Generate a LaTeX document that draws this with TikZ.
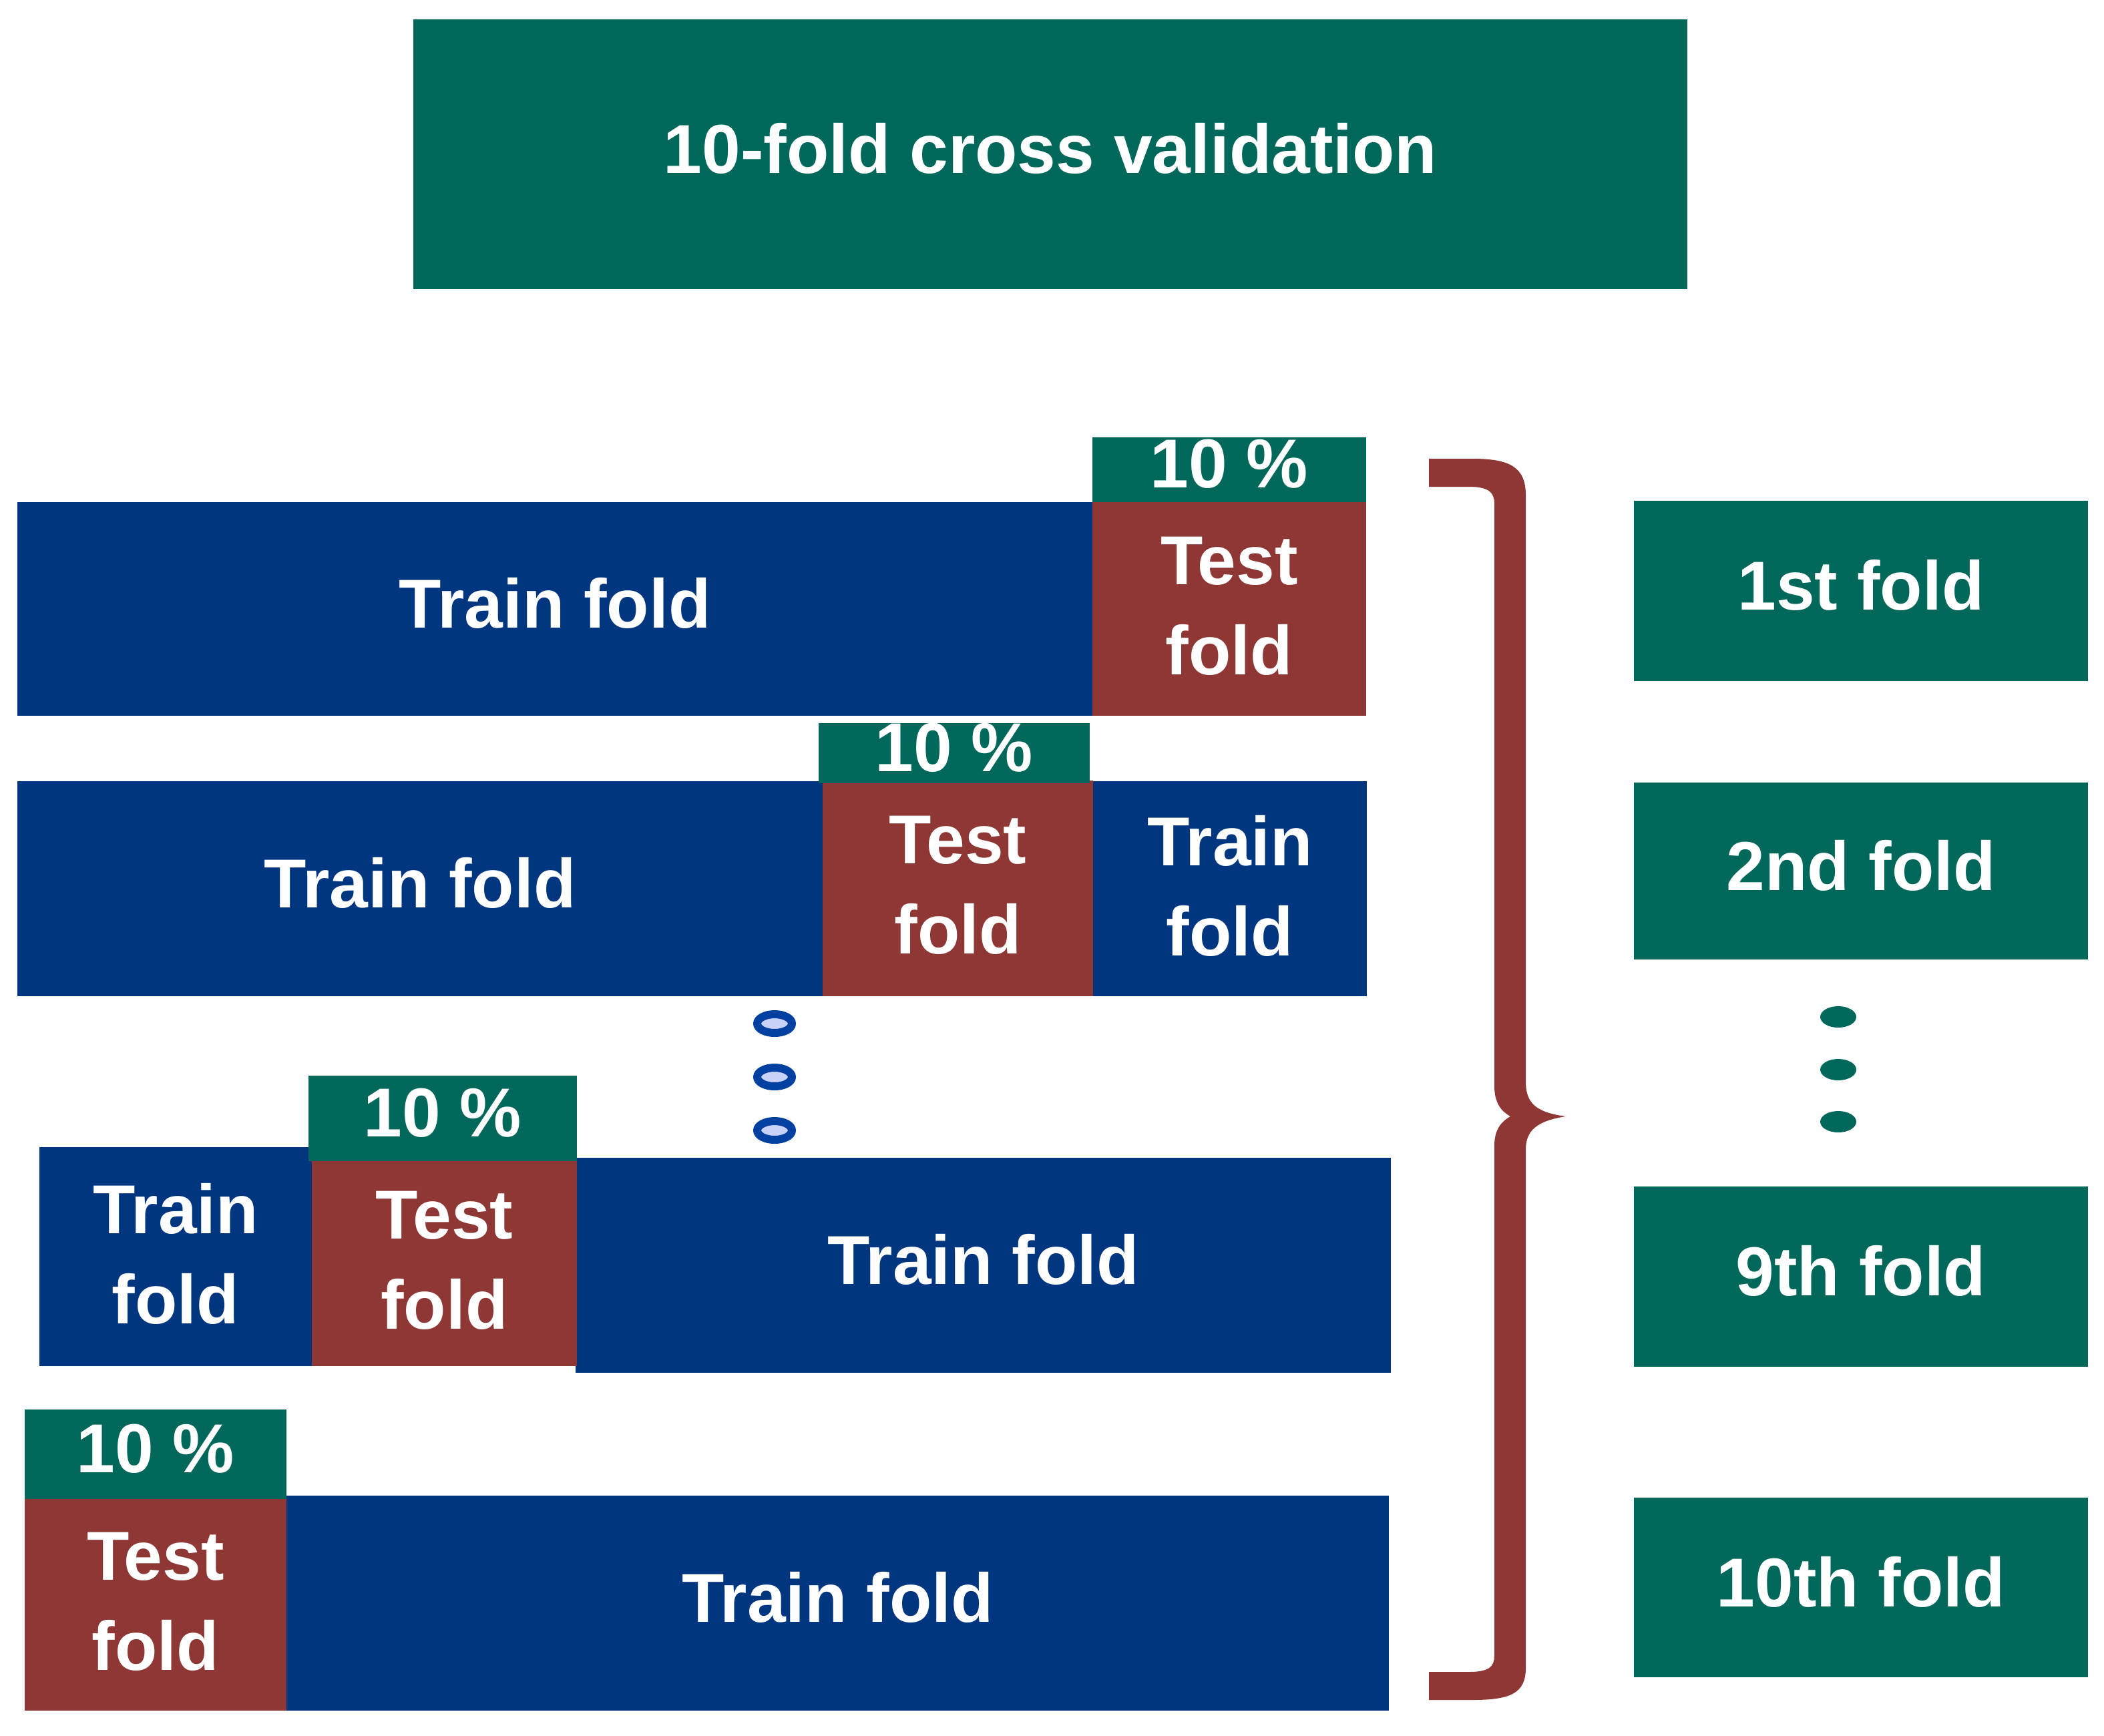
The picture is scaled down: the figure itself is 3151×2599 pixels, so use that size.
\documentclass[tikz,border=0pt]{standalone}
\usepackage{fontspec}
\setmainfont{Liberation Sans}
\definecolor{tgreen}{RGB}{0,104,91}
\definecolor{tblue}{RGB}{0,54,128}
\definecolor{tred}{RGB}{142,55,53}
\definecolor{dotblue}{RGB}{0,64,160}
\definecolor{dotfill}{RGB}{200,210,248}
\tikzset{
  blk/.style={inner sep=0pt, outer sep=0pt, anchor=north west, text=white, align=center,
    text depth=0.18cm,
    font=\fontsize{29.5}{38.4}\selectfont\bfseries},
  two/.style={text depth=0.1cm},
  grn/.style={blk, fill=tgreen},
  blu/.style={blk, fill=tblue},
  rd/.style={blk, fill=tred},
  hollowdot/.style={draw=dotblue, fill=dotfill, line width=0.12cm},
  soliddot/.style={fill=tgreen, draw=none},
}
\newcommand{\bx}[3]{\node[#1, minimum width=#2*0.01cm, minimum height=#3*0.01cm]}
\begin{document}
\begin{tikzpicture}[x=0.01cm, y=-0.01cm]
\useasboundingbox (0,0) rectangle (3151,2599);
% title
\bx{grn}{1908}{404} (title) at (619,29) {10-fold cross validation};
% row 1
\bx{blu}{1610}{320} (r1train) at (26,752) {Train fold};
\bx{rd,two}{410}{320} (r1test) at (1636,752) {Test\\fold};
\bx{grn}{410}{97} (r1pct) at (1636,655) {10 \%};
% row 2
\bx{blu}{1206}{322} (r2train) at (26,1170) {Train fold};
\bx{blu,two}{410}{322} (r2trainb) at (1637,1170) {Train\\fold};
\bx{rd,two}{405}{323} (r2test) at (1232,1169) {Test\\fold};
\bx{grn}{406}{86} (r2pct) at (1226,1083) {10 \%};
% row 3
\bx{blu,two}{408}{328} (r3trainl) at (59,1718) {Train\\fold};
\bx{blu}{1221}{322} (r3trainr) at (862,1734) {Train fold};
\bx{rd,two}{397}{307} (r3test) at (467,1739) {Test\\fold};
\bx{grn}{402}{128} (r3pct) at (462,1611) {10 \%};
% row 4
\bx{blu}{1651}{322} (r4train) at (429,2240) {Train fold};
\bx{rd,two}{392}{317} (r4test) at (37,2245) {Test\\fold};
\bx{grn}{392}{134} (r4pct) at (37,2111) {10 \%};
% right column
\bx{grn}{680}{270} (f1) at (2447,750) {1st fold};
\bx{grn}{680}{265} (f2) at (2447,1172) {2nd fold};
\bx{grn}{680}{270} (f9) at (2447,1777) {9th fold};
\bx{grn}{680}{269} (f10) at (2447,2243) {10th fold};
% hollow dots
\foreach \yy in {1533,1613,1693}
  \draw[hollowdot] (1160,\yy) ellipse [x radius=26, y radius=14];
% green dots
\foreach \yy in {1523,1602,1680}
  \fill[soliddot] (2753,\yy) ellipse [x radius=27, y radius=16];
% brace
\fill[tred] (2140,687) -- (2205,687)
  .. controls (2262,687) and (2285,700) .. (2285,742)
  -- (2285,1620)
  .. controls (2285,1652) and (2300,1666) .. (2345,1672)
  .. controls (2300,1679) and (2285,1694) .. (2285,1722)
  -- (2285,2498)
  .. controls (2285,2536) and (2262,2546) .. (2205,2546)
  -- (2140,2546) -- (2140,2504) -- (2200,2504)
  .. controls (2230,2504) and (2238,2496) .. (2238,2480)
  -- (2238,1716)
  .. controls (2238,1692) and (2248,1680) .. (2262,1672)
  .. controls (2248,1664) and (2238,1652) .. (2238,1626)
  -- (2238,754)
  .. controls (2238,738) and (2230,729) .. (2200,729)
  -- (2140,729) -- cycle;
\end{tikzpicture}
\end{document}
